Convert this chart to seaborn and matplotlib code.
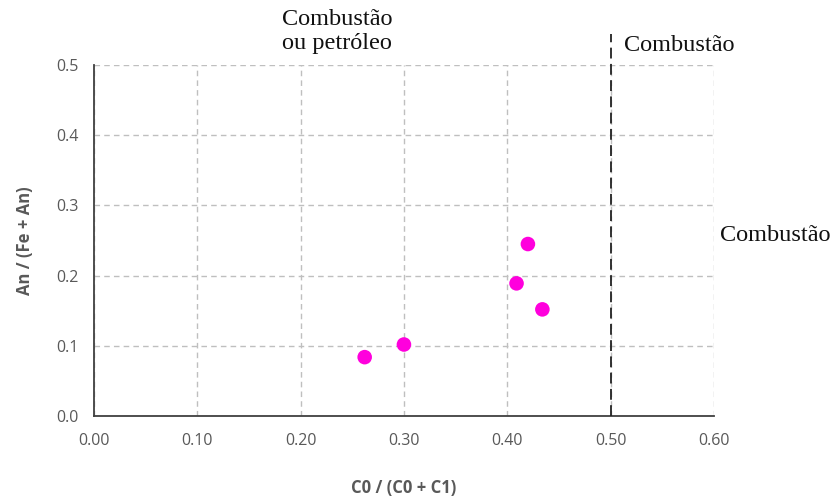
import matplotlib
matplotlib.use("Agg")
import matplotlib.pyplot as plt
import seaborn as sns
import pandas as pd

# Diagnostic ratios
c0_ratio = [0.262, 0.300, 0.420, 0.409, 0.434]
an_ratio = [0.084, 0.102, 0.245, 0.189, 0.152]
x_ticks = [0.0, 0.1, 0.2, 0.3, 0.4, 0.5, 0.6]
y_ticks = [0.0, 0.1, 0.2, 0.3, 0.4, 0.5]
threshold = 0.5

df = pd.DataFrame({"c0": c0_ratio, "an": an_ratio})

sns.set_theme(style="white")
plt.rcParams["font.family"] = ["Open Sans", "DejaVu Sans"]

fig = plt.figure(figsize=(8.32, 4.99), dpi=100)
ax = fig.add_axes([0.113, 0.166, 0.745, 0.704])

sns.scatterplot(data=df, x="c0", y="an", ax=ax, color="#ff00dd",
                s=110, edgecolor="none", zorder=4)

ax.set_xlim(0, 0.6)
ax.set_ylim(0, 0.5)
ax.set_xticks(x_ticks)
ax.set_yticks(y_ticks)
ax.set_xticklabels([f"{v:.2f}" for v in x_ticks])
ax.set_yticklabels([f"{v:.1f}" for v in y_ticks])

ax.grid(True, color="#bfbfbf", linestyle=(0, (4, 3)), linewidth=1)
for side in ("top", "right"):
    ax.spines[side].set_visible(False)
for side in ("left", "bottom"):
    ax.spines[side].set_color("#404040")
    ax.spines[side].set_linewidth(1.3)

ax.tick_params(axis="x", direction="inout", length=8, width=1.2, color="#404040",
               labelsize=11.5, labelcolor="#595959", pad=8)
ax.tick_params(axis="y", direction="out", length=5, width=1.2, color="#404040",
               labelsize=11.5, labelcolor="#595959", pad=6)

ax.set_xlabel("C0 / (C0 + C1)", fontsize=12, fontweight="bold", color="#595959",
              labelpad=22)
ax.set_ylabel("An / (Fe + An)", fontsize=12, fontweight="bold", color="#595959",
              labelpad=16)

# Threshold line reaching above the plot area
ax.axvline(threshold, ymin=0, ymax=1.087, color="#222222", linestyle=(0, (6, 3)),
           linewidth=1.3, clip_on=False, zorder=3)

serif = ["Liberation Serif", "DejaVu Serif"]
fig.text(0.405, 0.982, "Combustão\nou petróleo", ha="center", va="top",
         fontsize=17.5, family=serif, color="#111111", linespacing=1.2)
fig.text(0.750, 0.908, "Combustão", ha="left", va="center",
         fontsize=17.5, family=serif, color="#111111")
fig.text(0.865, 0.528, "Combustão", ha="left", va="center",
         fontsize=17.5, family=serif, color="#111111")

fig.savefig("out.png", dpi=100, facecolor="white")
